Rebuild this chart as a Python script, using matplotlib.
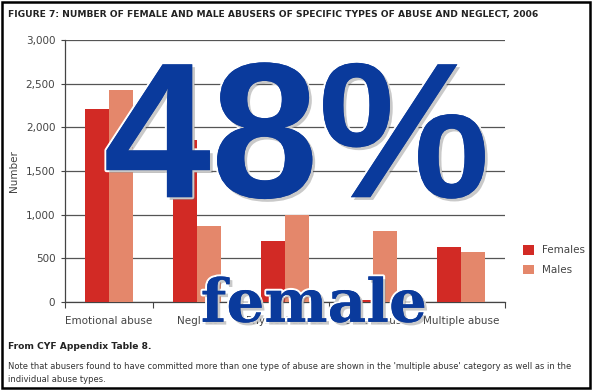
import numpy as np
import matplotlib
matplotlib.use("Agg")
import matplotlib.pyplot as plt
import matplotlib.patheffects as pe
from matplotlib.patches import Rectangle

# ================== DATA ==================
categories = ["Emotional abuse", "Neglect", "Physical abuse", "Sexual abuse", "Multiple abuse"]
females = [2210, 1855, 700, 20, 630]
males = [2430, 870, 1000, 810, 575]
y_ticks = [0, 500, 1000, 1500, 2000, 2500, 3000]

RED = "#d22a25"
SALMON = "#e4876b"
BLUE = "#0a3a9c"

# ================== FIGURE ==================
fig = plt.figure(figsize=(5.97, 3.92), dpi=100)
ax = fig.add_axes([0.109, 0.2296, 0.737, 0.668])

x = np.arange(len(categories))
w = 0.27
ax.bar(x - w / 2, females, w, color=RED, label="Females", zorder=3)
ax.bar(x + w / 2, males, w, color=SALMON, label="Males", zorder=3)

ax.set_xlim(-0.5, len(categories) - 0.5)
ax.set_ylim(0, 3000)
ax.set_yticks(y_ticks)
ax.set_yticklabels([f"{v:,}" for v in y_ticks], fontsize=7.5, color="#444444")
ax.yaxis.grid(True, color="#555555", lw=0.9, zorder=1)
ax.set_axisbelow(True)

ax.set_xticks(np.arange(-0.5, len(categories), 1.0))
ax.set_xticklabels([])
ax.set_xticks(x, minor=True)
ax.set_xticklabels(categories, minor=True, fontsize=7.5, color="#444444")
ax.tick_params(axis="x", which="minor", length=0, pad=10)
ax.tick_params(axis="x", which="major", length=4, color="#444444", direction="out")
ax.tick_params(axis="y", length=3, color="#444444", pad=4)

for s in ["top", "right"]:
    ax.spines[s].set_visible(False)
for s in ["left", "bottom"]:
    ax.spines[s].set_color("#444444")
    ax.spines[s].set_linewidth(0.9)

ax.set_ylabel("Number", fontsize=7.5, color="#444444", labelpad=5)

leg = ax.legend(loc="center left", bbox_to_anchor=(1.02, 0.16), frameon=False,
                fontsize=7.5, handlelength=1.0, handleheight=1.0, labelspacing=0.9)
for t in leg.get_texts():
    t.set_color("#444444")

# ================== TEXTS ==================
fig.text(0.014, 0.962, "FIGURE 7: NUMBER OF FEMALE AND MALE ABUSERS OF SPECIFIC TYPES OF ABUSE AND NEGLECT, 2006",
         fontsize=6.6, fontweight="bold", color="#222222", va="center")
fig.text(0.014, 0.117, "From CYF Appendix Table 8.", fontsize=6.6,
         fontweight="bold", color="#222222", va="center")
fig.text(0.014, 0.066, "Note that abusers found to have committed more than one type of abuse are shown in the "
         "'multiple abuse' category as well as in the", fontsize=6.05, color="#333333", va="center")
fig.text(0.014, 0.031, "individual abuse types.", fontsize=6.05, color="#333333", va="center")

# overlay
fx = [pe.withStroke(linewidth=3, foreground="white"),
      pe.SimplePatchShadow(offset=(2, -2), shadow_rgbFace="#666666", alpha=0.35), pe.Normal()]
fig.text(0.497, 0.497, "48%", family="Liberation Sans", fontsize=139, fontweight="bold",
         color=BLUE, ha="center", va="baseline", path_effects=fx, zorder=10)
fig.text(0.526, 0.179, "female", family="DejaVu Serif", fontsize=43, fontweight="bold",
         color=BLUE, ha="center", va="baseline", path_effects=fx, zorder=10)

# frame
fig.patches.append(Rectangle((0.004, 0.01), 0.985, 0.985, transform=fig.transFigure,
                             fill=False, edgecolor="black", lw=1.8, zorder=20))

fig.savefig("out.png", dpi=100)
